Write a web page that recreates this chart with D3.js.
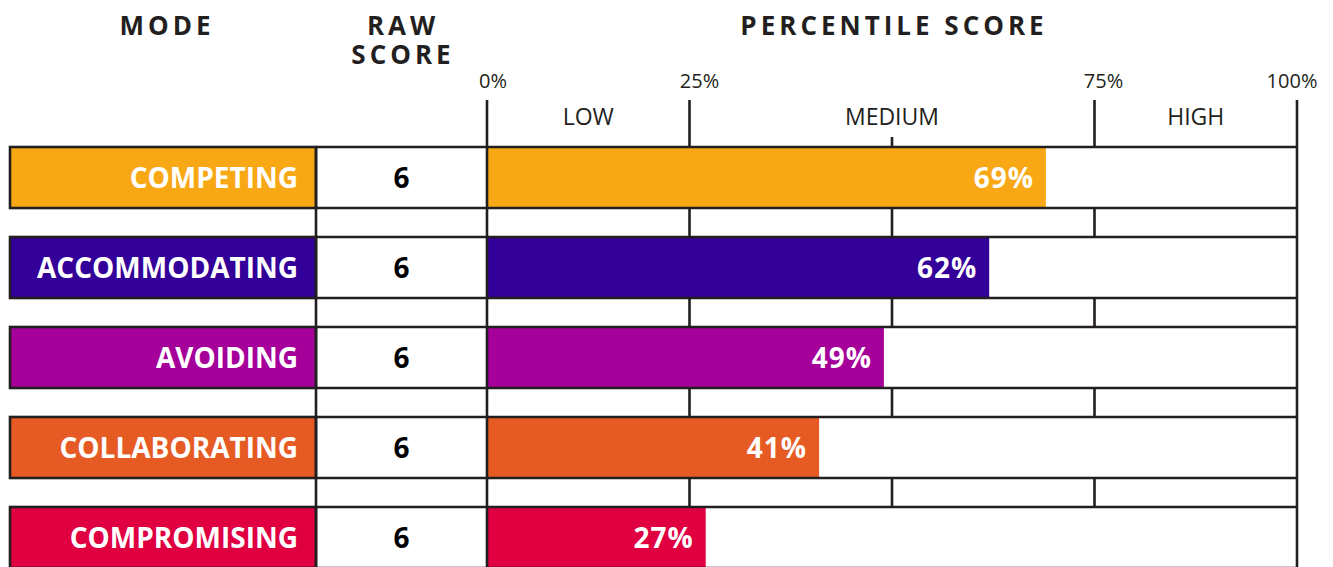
<!DOCTYPE html>
<html>
<head>
<meta charset="utf-8">
<script src="https://cdn.jsdelivr.net/npm/d3@7"></script>
<style>
  body { margin: 0; background: #fff; }
  svg { display: block; font-family: "Open Sans", "Noto Sans", sans-serif; }
</style>
</head>
<body>
<svg width="1333" height="567"></svg>
<script>
const modes = ["COMPETING", "ACCOMMODATING", "AVOIDING", "COLLABORATING", "COMPROMISING"];
const rawScores = [6, 6, 6, 6, 6];
const percentiles = [69, 62, 49, 41, 27];
const colors = ["#f9a815", "#330099", "#a5009a", "#e65a24", "#e00042"];
const tickValues = [0, 25, 75, 100];
const bands = [
  { label: "LOW", from: 0, to: 25 },
  { label: "MEDIUM", from: 25, to: 75 },
  { label: "HIGH", from: 75, to: 100 }
];

const svg = d3.select("svg");
const ink = "#231f20";
const lw = 2.6;

const modeLeft = 10, modeRight = 316, rawRight = 487;
const x = d3.scaleLinear().domain([0, 100]).range([487, 1297]);
const y = d3.scaleBand().domain(modes).range([147, 568]).paddingInner(0.322).paddingOuter(0);
const bottom = 570;

// 헤더
const head = svg.append("g").style("font-weight", 700).style("font-size", "26px")
  .style("letter-spacing", "4px").attr("fill", ink).attr("text-anchor", "middle");
head.append("text").attr("x", 167).attr("y", 35).text("MODE");
const raw = head.append("text").attr("x", 403).attr("y", 35);
raw.append("tspan").attr("x", 403).text("RAW");
raw.append("tspan").attr("x", 403).attr("dy", 29).text("SCORE");
head.append("text").attr("x", x(50) + 2).attr("y", 35).text("PERCENTILE SCORE");

// 눈금 라벨 (선 오른쪽으로 살짝 밀림)
const tickShift = { 0: 6, 25: 10, 75: 9, 100: -5 };
svg.append("g").selectAll("text").data(tickValues).enter().append("text")
  .attr("x", (d) => x(d) + tickShift[d])
  .attr("y", 88)
  .attr("text-anchor", "middle")
  .style("font-size", "20px")
  .attr("fill", ink)
  .text((d) => d + "%");

svg.append("g").selectAll("text").data(bands).enter().append("text")
  .attr("x", (d) => x((d.from + d.to) / 2))
  .attr("y", 125)
  .attr("text-anchor", "middle")
  .style("font-size", "23px")
  .attr("fill", ink)
  .text((d) => d.label);

// 모드 박스
const rows = svg.append("g").selectAll("g").data(modes).enter().append("g");
rows.append("rect")
  .attr("x", modeLeft).attr("y", (d) => y(d))
  .attr("width", modeRight - modeLeft).attr("height", y.bandwidth())
  .attr("fill", (d, i) => colors[i])
  .attr("stroke", ink).attr("stroke-width", lw);
rows.append("text")
  .attr("x", 298).attr("y", (d) => y(d) + y.bandwidth() / 2)
  .attr("dy", "0.36em")
  .attr("text-anchor", "end")
  .style("font-size", "28px").style("font-weight", 700)
  .attr("fill", "#fff")
  .text((d) => d);

// 점수 셀
rows.append("text")
  .attr("x", (modeRight + rawRight) / 2).attr("y", (d) => y(d) + y.bandwidth() / 2)
  .attr("dy", "0.36em")
  .attr("text-anchor", "middle")
  .style("font-size", "28px").style("font-weight", 700)
  .attr("fill", "#000")
  .text((d, i) => rawScores[i]);

// 퍼센타일 막대
rows.append("rect")
  .attr("x", x(0)).attr("y", (d) => y(d))
  .attr("width", (d, i) => x(percentiles[i]) - x(0)).attr("height", y.bandwidth())
  .attr("fill", (d, i) => colors[i]);
rows.append("text")
  .attr("x", (d, i) => x(percentiles[i]) - 12).attr("y", (d) => y(d) + y.bandwidth() / 2)
  .attr("dy", "0.36em")
  .attr("text-anchor", "end")
  .style("font-size", "28px").style("font-weight", 700)
  .style("letter-spacing", "1px")
  .attr("fill", "#fff")
  .text((d, i) => percentiles[i] + "%");

// 격자선
const grid = svg.append("g").attr("stroke", ink).attr("stroke-width", lw);
// 행 위/아래 가로선
modes.forEach((m) => {
  [y(m), y(m) + y.bandwidth()].forEach((yy) => {
    grid.append("line").attr("x1", modeRight).attr("x2", x(100)).attr("y1", yy).attr("y2", yy);
  });
});
// 세로선 (전체 높이)
grid.append("line").attr("x1", modeRight).attr("x2", modeRight).attr("y1", y(modes[0])).attr("y2", bottom);
grid.append("line").attr("x1", x(0)).attr("x2", x(0)).attr("y1", 100).attr("y2", bottom);
grid.append("line").attr("x1", x(100)).attr("x2", x(100)).attr("y1", 100).attr("y2", bottom);
// 헤더 눈금
grid.append("line").attr("x1", x(25)).attr("x2", x(25)).attr("y1", 100).attr("y2", y(modes[0]));
grid.append("line").attr("x1", x(75)).attr("x2", x(75)).attr("y1", 100).attr("y2", y(modes[0]));
grid.append("line").attr("x1", x(50)).attr("x2", x(50)).attr("y1", 137).attr("y2", y(modes[0]));
// 행 사이 눈금
modes.slice(0, -1).forEach((m, i) => {
  const y1 = y(m) + y.bandwidth();
  const y2 = y(modes[i + 1]);
  [25, 50, 75].forEach((v) => {
    grid.append("line").attr("x1", x(v)).attr("x2", x(v)).attr("y1", y1).attr("y2", y2);
  });
});
</script>
</body>
</html>
